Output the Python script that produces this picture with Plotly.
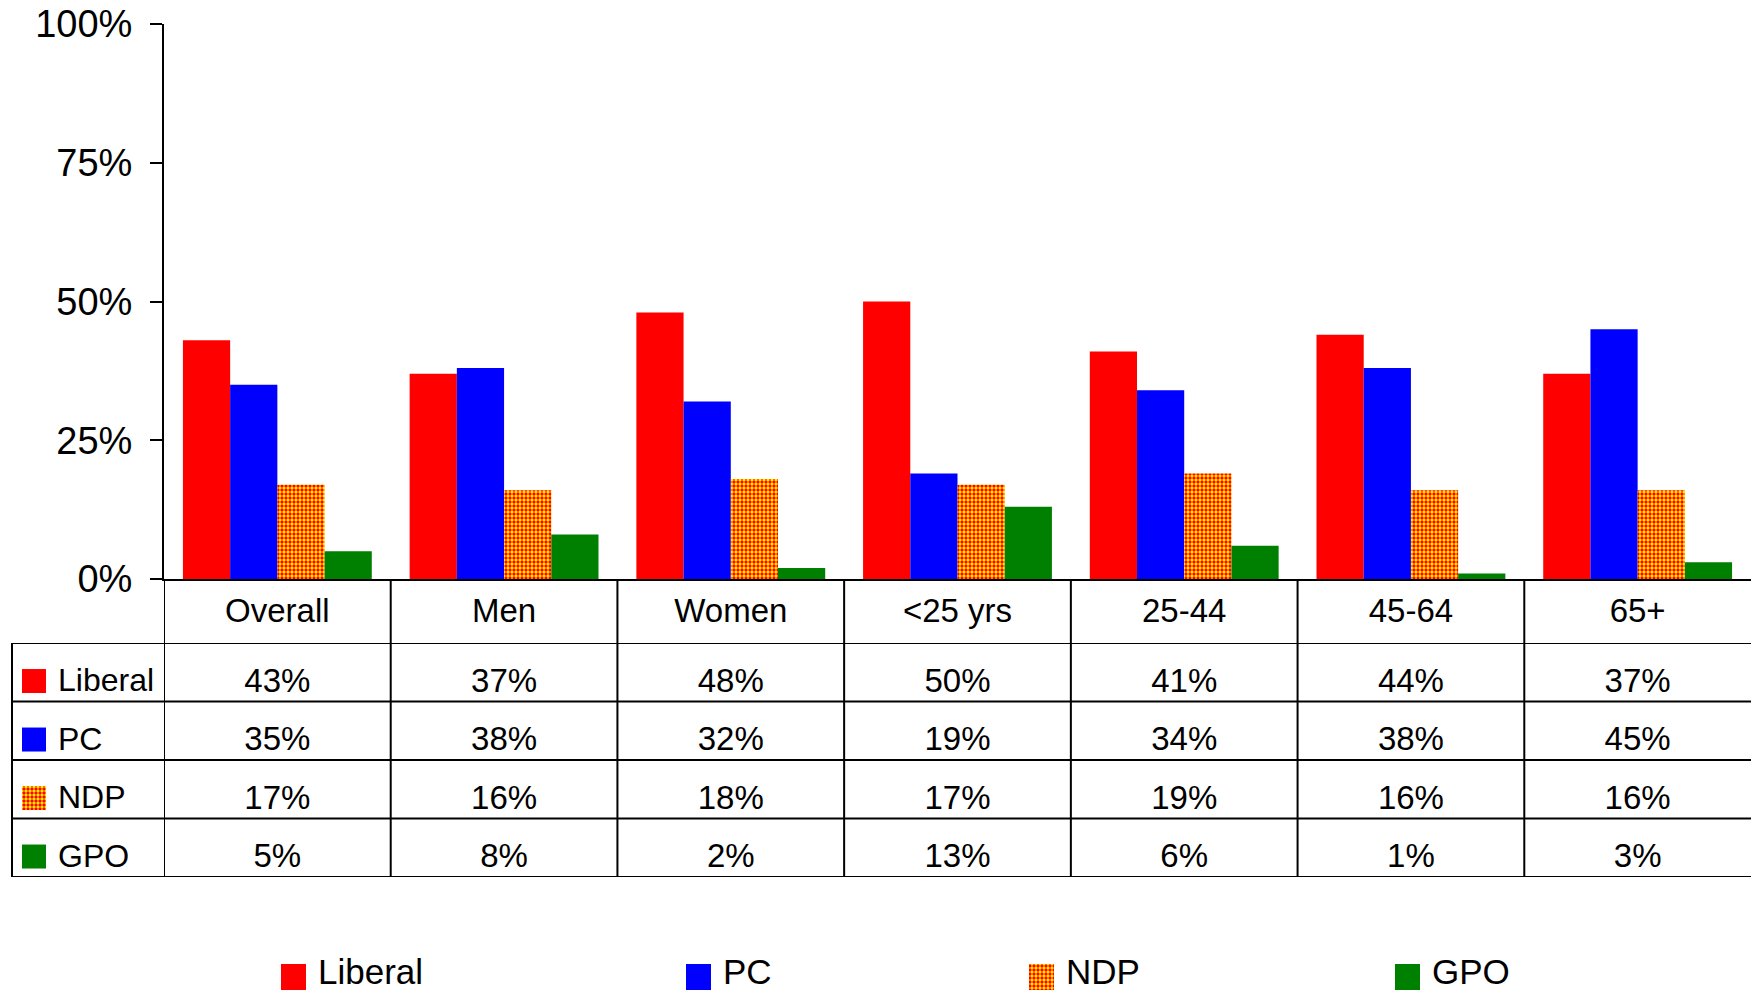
import plotly.graph_objects as go

W, H = 1751, 994

CATEGORIES = ["Overall", "Men", "Women", "<25 yrs", "25-44", "45-64", "65+"]
PARTIES = ["Liberal", "PC", "NDP", "GPO"]
LIBERAL = [43, 37, 48, 50, 41, 44, 37]
PC = [35, 38, 32, 19, 34, 38, 45]
NDP = [17, 16, 18, 17, 19, 16, 16]
GPO = [5, 8, 2, 13, 6, 1, 3]
Y_TICKS = [0, 25, 50, 75, 100]
Y_TICK_LABELS = ["0%", "25%", "50%", "75%", "100%"]

SERIES = {"Liberal": LIBERAL, "PC": PC, "NDP": NDP, "GPO": GPO}

ndp_pattern = dict(shape=".", fgcolor="#ff0000", bgcolor="#ffff00", size=4, solidity=0.55)
MARKERS = {
    "Liberal": dict(color="#ff0000", line=dict(width=0)),
    "PC": dict(color="#0000ff", line=dict(width=0)),
    "NDP": dict(color="#ff8000", pattern=ndp_pattern, line=dict(width=0)),
    "GPO": dict(color="#008000", line=dict(width=0)),
}

REG = "Liberation Sans, Arial, sans-serif"
NARROW = "Liberation Sans Narrow, Arial Narrow, Liberation Sans, Arial, sans-serif"
LINE = "#000000"
LW = 2


def px_x(x):
    return x / W


def px_y(y):
    return 1 - y / H


n_parties = len(PARTIES)
text_off = 0.69     # value text position inside a row (row units)
label_off = 0.64    # row label position
swatch_off = 0.65   # row swatch centre
swatch_h = 0.41     # row swatch height (row units)
legend_x = [281, 686, 1029, 1395]  # px, left edge of each legend swatch

fig = go.Figure()

# main bars
for p in PARTIES:
    fig.add_bar(
        x=CATEGORIES, y=SERIES[p], name=p, marker=MARKERS[p],
        xaxis="x", yaxis="y", showlegend=False, hoverinfo="skip",
    )

# table header row (own band under the x axis)
fig.add_scatter(
    x=CATEGORIES, y=[0.55] * len(CATEGORIES),
    text=[c.replace("<", "&lt;") for c in CATEGORIES], mode="text",
    textfont=dict(family=NARROW, size=33, color="black"),
    xaxis="x5", yaxis="y5", showlegend=False, hoverinfo="skip",
)

# table party rows
for r, p in enumerate(PARTIES):
    fig.add_scatter(
        x=CATEGORIES, y=[r + text_off] * len(CATEGORIES),
        text=[f"{v}%" for v in SERIES[p]], mode="text",
        textfont=dict(family=NARROW, size=33, color="black"),
        xaxis="x2", yaxis="y2", showlegend=False, hoverinfo="skip",
    )
    fig.add_bar(
        x=[0.5], y=[swatch_h], base=[r + swatch_off - swatch_h / 2],
        width=[1], offset=[-0.5], marker=MARKERS[p],
        xaxis="x4", yaxis="y4", showlegend=False, hoverinfo="skip",
    )
    fig.add_annotation(
        x=px_x(56), xref="paper", xanchor="left",
        y=r + label_off, yref="y2", yanchor="middle",
        text=p, showarrow=False,
        font=dict(family=NARROW, size=32, color="black"),
    )

# bottom legend (swatch bars on a hidden full-page axis, labels as annotations)
sw, sh = 25 / W, 26 / H
for i, p in enumerate(PARTIES):
    fig.add_bar(
        x=[px_x(legend_x[i]) + sw / 2], y=[sh], base=[px_y(990)],
        width=[sw], offset=[-sw / 2], marker=MARKERS[p],
        xaxis="x3", yaxis="y3", showlegend=False, hoverinfo="skip",
    )
    fig.add_annotation(
        x=px_x(legend_x[i] + 35), xref="paper", xanchor="left",
        y=px_y(971), yref="paper", yanchor="middle",
        text=p, showarrow=False,
        font=dict(family=NARROW, size=35, color="black"),
    )

# table grid
shapes = []
for k in range(len(CATEGORIES)):
    for ax in ("y5", "y2"):
        shapes.append(dict(type="line", xref="x2", yref=ax, x0=k - 0.5, x1=k - 0.5,
                           y0=0, y1=1 if ax == "y5" else n_parties,
                           line=dict(color=LINE, width=LW)))
shapes.append(dict(type="line", xref="paper", yref="y2", x0=px_x(12), x1=px_x(12),
                   y0=0, y1=n_parties, line=dict(color=LINE, width=LW)))
for r in range(n_parties + 1):
    shapes.append(dict(type="line", xref="paper", yref="y2", x0=px_x(12), x1=1,
                       y0=r, y1=r, line=dict(color=LINE, width=LW)))

x_dom = [px_x(164), 1]
x_rng = [-0.5, len(CATEGORIES) - 0.5]
header_dom = [px_y(643), px_y(579)]
rows_dom = [px_y(877), px_y(643)]
hidden = dict(visible=False, automargin=False)

fig.update_layout(
    template="none",
    width=W, height=H,
    margin=dict(l=0, r=0, t=0, b=0, autoexpand=False),
    paper_bgcolor="white", plot_bgcolor="rgba(0,0,0,0)",
    barmode="group", bargap=0.167, bargroupgap=0,
    showlegend=False,
    shapes=shapes,
    xaxis=dict(
        domain=x_dom, range=x_rng, automargin=False,
        showticklabels=False, ticks="", showgrid=False, zeroline=False,
        showline=True, linecolor=LINE, linewidth=LW, anchor="y",
    ),
    yaxis=dict(
        domain=[px_y(579), px_y(24)], range=[0, 100], automargin=False,
        tickvals=Y_TICKS, ticktext=Y_TICK_LABELS,
        ticks="outside", ticklen=12, tickwidth=LW, tickcolor=LINE,
        ticklabelstandoff=10,
        showline=True, linecolor=LINE, linewidth=LW,
        showgrid=False, zeroline=False, anchor="x",
        tickfont=dict(family=REG, size=38, color="black"),
    ),
    xaxis2=dict(domain=x_dom, range=x_rng, type="category",
                categoryarray=CATEGORIES, anchor="y2", **hidden),
    yaxis2=dict(domain=rows_dom, range=[n_parties, 0], anchor="x2", **hidden),
    xaxis5=dict(domain=x_dom, range=x_rng, type="category",
                categoryarray=CATEGORIES, anchor="y5", **hidden),
    yaxis5=dict(domain=header_dom, range=[1, 0], anchor="x5", **hidden),
    xaxis3=dict(domain=[0, 1], range=[0, 1], anchor="y3", **hidden),
    yaxis3=dict(domain=[0, 1], range=[0, 1], anchor="x3", **hidden),
    xaxis4=dict(domain=[px_x(22), px_x(46)], range=[0, 1], anchor="y4", **hidden),
    yaxis4=dict(domain=rows_dom, range=[n_parties, 0], anchor="x4", **hidden),
)

fig.write_html(
    "out.html",
    config={"displayModeBar": False},
    post_script="document.body.style.margin='0';document.body.style.overflow='hidden';",
)
